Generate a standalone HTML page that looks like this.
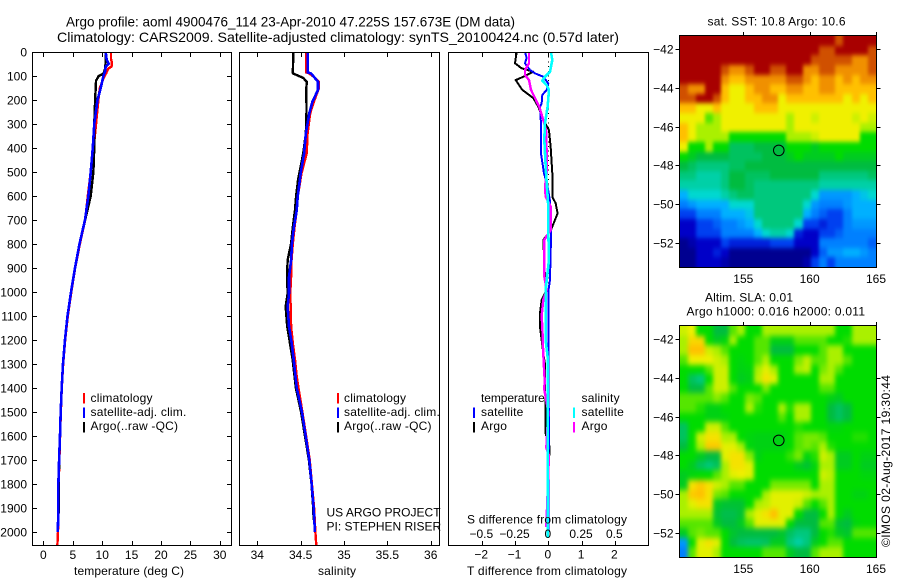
<!DOCTYPE html>
<html>
<head>
<meta charset="utf-8">
<title>Argo profile</title>
<style>
html,body{margin:0;padding:0;background:#fff;}
svg{display:block;}
text{font-family:"Liberation Sans",sans-serif;font-size:12px;fill:#000;}
.title{font-size:14px;}
.legend text{letter-spacing:.2px;}
</style>
</head>
<body>
<svg id="chart" xmlns="http://www.w3.org/2000/svg" width="900" height="580" viewBox="0 0 900 580">
<defs>
<filter id="sstSmooth" filterUnits="userSpaceOnUse" x="660" y="20" width="240" height="270" color-interpolation-filters="sRGB">
<feGaussianBlur stdDeviation="1.5 2.5"/>
<feComponentTransfer><feFuncA type="linear" slope="100" intercept="0"/></feComponentTransfer>
</filter>
<filter id="slaSmooth" filterUnits="userSpaceOnUse" x="660" y="310" width="240" height="270" color-interpolation-filters="sRGB">
<feGaussianBlur stdDeviation="2.2 3"/>
<feComponentTransfer><feFuncA type="linear" slope="100" intercept="0"/></feComponentTransfer>
</filter>
<clipPath id="sstClip"><rect x="680" y="36" width="196" height="231"/></clipPath>
<clipPath id="slaClip"><rect x="680" y="326" width="196" height="231"/></clipPath>
</defs>
<rect x="0" y="0" width="900" height="580" fill="#fff"/>
<text class="title" x="66" y="26.5" textLength="449" lengthAdjust="spacingAndGlyphs">Argo profile: aoml 4900476_114 23-Apr-2010 47.225S 157.673E (DM data)</text>
<text class="title" x="57" y="42" textLength="562" lengthAdjust="spacingAndGlyphs">Climatology: CARS2009. Satellite-adjusted climatology: synTS_20100424.nc (0.57d later)</text>

<g id="maps"></g>
<g id="profiles"></g>
<g id="axes"></g>

<text x="129" y="575" text-anchor="middle" textLength="110">temperature (deg C)</text>
<text x="337" y="575" text-anchor="middle" textLength="38">salinity</text>
<text x="547" y="575" text-anchor="middle" textLength="160">T difference from climatology</text>
<text x="547" y="523.5" text-anchor="middle" textLength="160">S difference from climatology</text>

<g class="legend">
<rect x="83" y="393" width="2" height="10.5" fill="#f00"/>
<text x="90.5" y="402">climatology</text>
<rect x="83" y="407.5" width="2" height="10.5" fill="#00f"/>
<text x="90.5" y="416">satellite-adj. clim.</text>
<rect x="83" y="422" width="2" height="10.5" fill="#000"/>
<text x="90.5" y="430">Argo(..raw -QC)</text>
</g>
<g class="legend">
<rect x="337" y="393" width="2" height="10.5" fill="#f00"/>
<text x="344" y="402">climatology</text>
<rect x="337" y="407.5" width="2" height="10.5" fill="#00f"/>
<text x="344" y="416">satellite-adj. clim.</text>
<rect x="337" y="422" width="2" height="10.5" fill="#000"/>
<text x="344" y="430">Argo(..raw -QC)</text>
</g>
<text x="326.5" y="516.5">US ARGO PROJECT</text>
<text x="326.5" y="530.5">PI: STEPHEN RISER</text>

<g class="legend">
<text x="481" y="402" textLength="64">temperature</text>
<rect x="473" y="407.5" width="2" height="10.5" fill="#00f"/>
<text x="481" y="416">satellite</text>
<rect x="473" y="422" width="2" height="10.5" fill="#000"/>
<text x="481" y="430">Argo</text>
<text x="581.5" y="402">salinity</text>
<rect x="573" y="407.5" width="2" height="10.5" fill="#0ff"/>
<text x="581.5" y="416">satellite</text>
<rect x="573" y="422" width="2" height="10.5" fill="#f0f"/>
<text x="581.5" y="430">Argo</text>
</g>

<text x="707.5" y="25.5" textLength="138">sat. SST: 10.8 Argo: 10.6</text>
<text x="705" y="301.5" textLength="88">Altim. SLA: 0.01</text>
<text x="686.5" y="315.5" textLength="178.5">Argo h1000: 0.016 h2000: 0.011</text>
<text transform="translate(890 547) rotate(-90)" textLength="172">©IMOS 02-Aug-2017 19:30:44</text>
</svg>

<script>
// ---------- chart data ----------
var tempTicks = [0, 5, 10, 15, 20, 25, 30];
var salTicks = [34, 34.5, 35, 35.5, 36];
var tDiffTicks = [-2, -1, 0, 1, 2];
var sDiffTicks = [-0.5, -0.25, 0, 0.25, 0.5];
var sDiffTickLabels = ['\u22120.5', '\u22120.25', '0', '0.25', '0.5'];
var tDiffTickLabels = ['\u22122', '\u22121', '0', '1', '2'];
var depthTicks = [0, 100, 200, 300, 400, 500, 600, 700, 800, 900, 1000, 1100, 1200, 1300, 1400, 1500, 1600, 1700, 1800, 1900, 2000];
var lonTicks = [155, 160, 165];
var latTicks = [-42, -44, -46, -48, -50, -52];
var profileLon = [157.673];
var profileLat = [-47.225];

var tempClimDepth = [0, 30, 40, 60, 70, 90, 110, 150, 200, 300, 400, 500, 600, 700, 800, 900, 1000, 1100, 1200, 1300, 1400, 1500, 1600, 1700, 1800, 1900, 2000, 2055];
var tempClimValue = [11.5, 11.5, 11.6, 11.6, 11.0, 10.65, 10.2, 9.6, 9.35, 8.95, 8.55, 8.05, 7.55, 7.1, 6.2, 5.4, 4.75, 4.15, 3.7, 3.36, 3.13, 2.97, 2.84, 2.72, 2.6, 2.6, 2.48, 2.38];
var tempSatDepth = [0, 30, 50, 60, 80, 100, 150, 200, 300, 400, 500, 600, 700, 800, 900, 1000, 1100, 1200, 1300, 1400, 1500, 1600, 1700, 1800, 1900, 2000];
var tempSatValue = [10.6, 10.75, 11.1, 10.6, 10.5, 10.2, 9.75, 9.2, 8.65, 8.4, 8.05, 7.65, 7.07, 6.14, 5.37, 4.7, 4.1, 3.67, 3.33, 3.11, 2.94, 2.82, 2.67, 2.55, 2.55, 2.45];
var tempArgoDepth = [0, 50, 70, 90, 100, 120, 200, 300, 400, 500, 600, 700, 800, 900, 1000, 1100, 1200, 1300, 1400, 1500, 1600, 1700, 1800, 1900, 1950];
var tempArgoValue = [10.56, 10.56, 10.5, 10.2, 9.4, 8.95, 8.8, 8.65, 8.65, 8.5, 8.05, 7.1, 6.14, 5.37, 4.7, 4.1, 3.67, 3.33, 3.11, 2.94, 2.82, 2.7, 2.6, 2.6, 2.55];

var salClimDepth = [0, 85, 89, 103, 124, 151, 200, 255, 339, 422, 505, 603, 658, 728, 797, 867, 936, 1006, 1061, 1144, 1214, 1283, 1353, 1400, 1500, 1600, 1700, 1800, 1900, 2000, 2055];
var salClimValue = [34.562, 34.562, 34.597, 34.65, 34.71, 34.71, 34.66, 34.61, 34.58, 34.57, 34.51, 34.466, 34.455, 34.43, 34.41, 34.395, 34.39, 34.38, 34.385, 34.39, 34.41, 34.435, 34.455, 34.475, 34.52, 34.563, 34.605, 34.63, 34.655, 34.67, 34.68];
var salSatDepth = [0, 85, 89, 124, 158, 208, 255, 339, 422, 505, 603, 658, 728, 797, 867, 936, 1006, 1061, 1144, 1214, 1283, 1353, 1400, 1500, 1600, 1700, 1800, 1900, 2000];
var salSatValue = [34.58, 34.58, 34.62, 34.7, 34.7, 34.635, 34.6, 34.56, 34.54, 34.5, 34.466, 34.455, 34.423, 34.4, 34.39, 34.366, 34.366, 34.35, 34.366, 34.397, 34.42, 34.44, 34.455, 34.515, 34.558, 34.6, 34.627, 34.65, 34.665];
var salArgoDepth = [0, 89, 108, 124, 158, 242, 339, 422, 478, 533, 603, 658, 728, 797, 867, 936, 1006, 1061, 1144, 1214, 1283, 1353, 1400, 1500, 1600, 1700, 1800, 1900, 1950];
var salArgoValue = [34.415, 34.41, 34.53, 34.57, 34.565, 34.568, 34.56, 34.53, 34.5, 34.47, 34.447, 34.435, 34.41, 34.39, 34.35, 34.343, 34.35, 34.327, 34.345, 34.377, 34.408, 34.43, 34.445, 34.505, 34.55, 34.595, 34.625, 34.645, 34.65];

var tDiffArgoDepth = [0, 47, 68, 82, 100, 117, 158, 192, 228, 283, 325, 394, 505, 603, 630, 672, 700, 742, 783, 936, 992, 1033, 1089, 1144, 1200, 1256, 1300, 1367, 1500, 1590, 1640, 1680, 1700, 1900];
var tDiffArgoValue = [-0.95, -1.0, -0.8, -0.45, -0.7, -0.98, -0.78, -0.45, -0.3, -0.15, 0.02, 0.07, 0.12, 0.12, 0.22, 0.28, 0.2, 0.08, -0.15, -0.1, -0.05, -0.2, -0.25, -0.25, -0.2, -0.15, -0.1, -0.1, -0.08, -0.08, 0.03, 0.03, 0, 0];
var tDiffSatDepth = [0, 25, 47, 75, 89, 103, 131, 158, 179, 214, 228, 297, 422, 505, 561, 620, 742, 783, 950, 1000, 1450, 1500, 2000];
var tDiffSatValue = [-0.7, -0.65, -0.7, -0.55, -0.4, -0.15, 0, -0.05, -0.18, -0.2, -0.25, -0.22, -0.22, -0.13, -0.02, 0.05, 0.08, 0.08, 0.05, 0, 0, 0.02, 0];
var sDiffArgoDepth = [0, 47, 75, 96, 117, 158, 186, 228, 283, 325, 422, 505, 561, 603, 644, 742, 783, 936, 992, 1033, 1100, 1144, 1256, 1345, 1375, 1400, 1500, 1650, 1680, 1980];
var sDiffArgoValue = [-0.145, -0.145, -0.175, -0.175, -0.145, -0.13, -0.105, -0.068, -0.038, -0.017, -0.012, -0.012, -0.025, -0.02, 0.018, 0.018, -0.03, -0.03, -0.012, -0.038, -0.05, -0.045, -0.038, -0.03, -0.025, -0.032, 0, -0.015, 0.005, -0.015];
var sDiffSatDepth = [0, 33, 82, 103, 119, 138, 158, 228, 297, 366, 505, 644, 742, 867, 992, 1200, 1270, 2000, 2025];
var sDiffSatValue = [0.02, 0.03, 0.013, -0.025, -0.045, -0.012, 0.005, -0.005, -0.025, -0.03, -0.017, 0, 0, 0.005, -0.02, -0.02, -0.005, -0.005, -0.005];

var sstRows = [
[14,14,14,14,14,14,14,14,14,14,14,14,14,14,14,14,14,14,14,13,14,14,14,14],
[14,14,14,14,14,14,14,14,14,14,14,14,14,14,14,14,14,13,13,14,14,14,14,13],
[14,14,14,14,14,14,14,14,14,14,14,14,14,14,14,14,13,13,13,13,13,12,12,13],
[14,14,14,14,14,13,12,12,13,14,14,13,13,14,14,12,12,13,13,12,12,12,12,13],
[14,14,14,14,14,12,11,11,12,12,12,12,12,13,13,12,11,12,12,11,12,11,12,12],
[13,12,12,14,14,11,10,10,11,12,12,11,11,12,12,11,11,12,12,11,11,11,11,11],
[13,13,14,14,13,11,10,10,11,11,12,12,10,11,11,11,11,11,11,11,10,11,10,11],
[11,11,10,10,11,10,10,10,10,11,11,11,10,10,10,10,10,10,10,10,10,10,10,10],
[10,10,10,8.5,9,10,10,10,10,10,10,10,10,9,10,10,9.5,10,10,10,10,9.5,10,9.5],
[11,10,9,9,9,10,10,10,10,10,10,10,10,9,10,10,10,10,10,10,10,10,9,9],
[11,10,9,9,9,9,8,8,8,8,8,8,8,9,9,9,9.5,10,10,10,10,10,8,8],
[10,8,8,9,8,8,6.5,6.5,6.5,7,7,7,7,8,8,8,7.5,8,8,8,8,8,8,8],
[8,7.5,7,7,7,7,6.5,6.5,6.5,6.5,7,7,7,7.5,8,7.5,7.5,7.5,7.5,8,7.5,7.5,7.5,7.5],
[7,6.5,6,6,6,6,6.5,6.5,7,7,7,7,7,7,7,7,7,7,7,7,7,7,7,7],
[6,6,5.5,5.5,5.5,6,7,7,6.5,6.5,6.5,7,7,7,7,7,7,6,6,6,6,6,6,6.5],
[5.5,5.5,5.5,5.5,5.5,6,7,7,6.5,6,6,6,6,6,6,6,6,5.5,5.5,5.5,5.5,5.5,5.5,5.5],
[4,5,5,5,5,5.5,6,6.5,6.5,6,6,6,6,6,6,6,5,3.5,3.5,3.5,3.5,4,4.5,5],
[3,3.5,4,4,4,4,5,5,5,6,6,6,6,6,6,5,3.5,3,3,3,3.5,4,4,4],
[2,2,3,3,3,4,4,4,4.5,6,6,6,6,6,6,4,3,2.5,2,2,3,4,4,4],
[1,1,2,2,2.5,3,3,3.5,4,5,6,6,6,6,5,2,2,1.5,2,2,3,3.5,3.5,3.5],
[1,1,2,2,2,3,3,3,3,4,5,5.5,5.5,5,1.5,1,1,2,2,2.5,3,3,3,3],
[0,0.5,1,1,1,2,1.5,1.5,1.5,1.5,1.5,2,2,2,1,1,1,3,3,3,3,3,3,2.5],
[0,0,1,1,1.5,1,0,0,0,0,0,0,0,0,0,0,1,2.5,3.5,3.5,4,4,3.5,3],
[0,0,1,1,1,0.5,0,0,0,0,0,0,0,0,0,0.5,2,3,2,3,3,3,3,3]
];
var slaRows = [
[9.5,10,8,8,7,7,8.5,9,8,8,9,9,9,9,9,9,9,9,9,8,8,9,9,9],
[9,10.5,10.5,8,7.5,7.8,9,8,8,8.5,8.5,7.7,7.7,7.7,8.5,8.5,8.5,8.5,8,8,8.2,9,9,9],
[9,11,11,9.5,9,8.5,8,8,8,8.5,8.5,7,7,7,8,8,8,8.5,9,9,8,8,8,8],
[8.5,10,10,10,9.5,9,8,7.8,8,8.5,9,8,8,8,8.7,9.3,8.5,8.5,9,9,8.5,8,8,8],
[8,8,8,8.5,9.5,9.5,8,7.7,7.8,9,9.8,9,8,8,9,9.3,8,8.7,9,8.5,8,8,8,8],
[8,6.5,6,8,9.5,9.5,8,7.5,7.7,9.3,10.3,9.8,8,8,8,8,8,9,9,8,8,8,8,8],
[8,7,7,8.5,9.5,9.5,8.5,8,8,8,8.7,8,8,8,8,8,8,8.5,8.5,8,8,8,8,8],
[8.5,8.5,8.5,8.5,8.8,8.5,8,8,8.7,8.5,8,8,8,8,8,8,8,8,7.7,7.5,8,8,8,8],
[8.5,8.5,8.2,7.7,7.7,8,8,8,9,8.2,8,8,9,8.2,9,9,8,8,7,6.5,7,8,8,8],
[8,8,8,7.7,7.7,7.8,8,8,8,8,8,8,8.5,8,9,9,8,8,7,6.5,7,8,8,8],
[6.5,8,8,9.5,9.5,8.5,8,8,8,8,8,8,8,8,8.2,8,8,8,7.8,7.8,8,8,8,8],
[6.5,8,9.5,10.3,10.3,9,9,8,7.8,7.7,7.7,7.7,7.7,8,8.5,8.7,8.7,8.5,8,8,8,8.2,8.2,8],
[7,8,9,10.8,10.8,9.8,9.8,9,7.8,7.7,7.7,7.7,7.7,8,8.5,8.7,8.5,9,8.2,8,8,8,8,8],
[8,8,7.5,7,7,9.8,10.3,10.3,8.8,7.7,8,8,8,8.3,8.7,7.8,8.2,9.5,9,7.5,7.5,8,7.7,7.7],
[8,7.5,6.5,6,6.5,9,10.3,10.3,9.8,8,8,8,8,8,7.5,7.2,7.8,9,9,7.5,7.5,8,7.5,7.5],
[7.5,7.8,8,8,8.5,9,9.8,10,9.8,8,8,8,8,8,8,8,8,9.5,9.2,8,8,8,7.8,7.8],
[7.5,10.3,10.8,10.3,9.5,9,8.5,8.5,8,8,8,8.7,8.7,8.7,8.7,8.7,8,9,9,8,8,8,8,8],
[9,10.8,11,10.3,8.7,8.5,8,8,8,8,9,9.8,9.8,9.8,9.8,9.5,9,9,9,8,8,7.7,7.7,8],
[9,9.8,10.3,10.3,7.5,7.2,7.2,7.2,8,9,9.3,9.8,9.8,9.8,9.5,8.5,8,8.5,9,8,8,8,8,8],
[9,9,9,9,7.2,6.8,6.8,7.2,9,9.8,10.3,11,9.8,9.8,8,7,7,8,9,8,7.5,8,8,8],
[8.5,8.5,8.5,8.5,7.5,7,7,7.5,8.5,9.8,9.8,9.8,9.8,8,7,7,7,8.5,8.5,7.2,7,7.8,8,8],
[7.5,8.5,8.7,8.5,8.5,8,7.3,7,7,7,7,7,7.3,6.5,6,6,7,8,8.2,7.5,7.3,8.5,8.5,8.5],
[3.5,8,9.8,10.3,9.8,8,7,6.5,6.3,6.3,6.5,7.5,7.5,6,5.5,6,7.5,8,8.5,8.5,8,8,8,8],
[3,8.5,9.8,9.8,9,8,8,8,8,8,8.5,8.5,8.5,7.5,7,7,8.5,9,9,9,8,8,8,8]
];
var colorStops = [[0,0,144],[0,0,200],[0,64,240],[0,128,255],[0,176,255],[0,216,208],[0,200,125],[0,188,64],[0,220,0],[170,240,0],[240,240,0],[255,192,0],[240,144,0],[208,80,0],[168,0,0]];

// ---------- axis functions ----------
function tempX(v) { return 43.4 + 5.88 * v; }
function salX(v) { return 257.3 + 86.7 * (v - 34); }
function tDiffX(v) { return 548.3 + 33.3 * v; }
function sDiffX(v) { return 548.3 + 133 * v; }
function depthY(d) { return 52 + 0.24 * d; }
function lonX(v) { return 743.3 + 13.27 * (v - 155); }
function latOffset(v) { return 19.4 * (-42 - v); }

var SVGNS = 'http://www.w3.org/2000/svg';
var mapsLayer = document.getElementById('maps');
var profilesLayer = document.getElementById('profiles');
var axesLayer = document.getElementById('axes');

function makeEl(parent, tag, attrs, name) {
  var el = document.createElementNS(SVGNS, tag);
  for (var k in attrs) { el.setAttribute(k, attrs[k]); }
  
  
  parent.appendChild(el);
  return el;
}
function makeLine(x1, y1, x2, y2, name) {
  return makeEl(axesLayer, 'line', {x1: x1, y1: y1, x2: x2, y2: y2, stroke: '#000', 'stroke-width': 1, 'shape-rendering': 'crispEdges'}, name);
}
function makeLabel(x, y, str, anchor, name) {
  var t = makeEl(axesLayer, 'text', {x: x, y: y, 'text-anchor': anchor}, name);
  t.textContent = str;
  return t;
}
function drawSeries(depths, values, xFn, color, width, name) {
  var pts = [];
  for (var i = 0; i < depths.length; i++) {
    pts.push(xFn(values[i]).toFixed(2) + ',' + depthY(depths[i]).toFixed(2));
  }
  makeEl(profilesLayer, 'polyline', {points: pts.join(' '), fill: 'none', stroke: color, 'stroke-width': width, 'stroke-linejoin': 'round', 'shape-rendering': 'crispEdges'}, name);
}
function frame(x0, x1, y0, y1, name) {
  makeEl(axesLayer, 'rect', {x: x0, y: y0, width: x1 - x0, height: y1 - y0, fill: 'none', stroke: '#000', 'stroke-width': 1, 'shape-rendering': 'crispEdges'}, name);
}
function cellColor(v) {
  var i = Math.max(0, Math.min(colorStops.length - 2, Math.floor(v)));
  var f = Math.max(0, Math.min(1, v - i));
  var a = colorStops[i], b = colorStops[i + 1];
  return 'rgb(' + Math.round(a[0] + (b[0] - a[0]) * f) + ',' + Math.round(a[1] + (b[1] - a[1]) * f) + ',' + Math.round(a[2] + (b[2] - a[2]) * f) + ')';
}
function drawMap(rows, top, bottom, lat42Y, filterId, clipId, name) {
  var left = 680, right = 876;
  var cw = (right - left) / rows[0].length;
  var ch = (bottom - top) / rows.length;
  var clipGroup = makeEl(mapsLayer, 'g', {'clip-path': 'url(#' + clipId + ')'}, name + '-image');
  var cellGroup = makeEl(clipGroup, 'g', {filter: 'url(#' + filterId + ')'}, name + '-cells');
  for (var r = 0; r < rows.length; r++) {
    for (var c = 0; c < rows[r].length; c++) {
      var x0 = Math.round(left + c * cw), x1 = Math.round(left + (c + 1) * cw);
      var y0 = Math.round(top + r * ch), y1 = Math.round(top + (r + 1) * ch);
      makeEl(cellGroup, 'rect', {x: x0, y: y0, width: x1 - x0, height: y1 - y0, fill: cellColor(rows[r][c]), 'shape-rendering': 'crispEdges'}, name + '-cell');
    }
  }
  frame(679.5, 876.5, top - 0.5, bottom + 0.5, name + '-frame');
  lonTicks.forEach(function (v) {
    var x = Math.round(lonX(v)) + 0.5;
    makeLine(x, top - 4, x, top, name + '-x-tick-top');
    makeLabel(lonX(v), bottom + 16, String(v), 'middle', name + '-x-tick-label');
  });
  latTicks.forEach(function (v) {
    var y = Math.round(lat42Y + latOffset(v)) + 0.5;
    makeLine(675.5, y, 679.5, y, name + '-y-tick-left');
    makeLine(876.5, y, 880.5, y, name + '-y-tick-right');
    makeLabel(673.5, y + 4, '\u2212' + Math.abs(v), 'end', name + '-y-tick-label');
  });
  makeEl(axesLayer, 'circle', {cx: lonX(profileLon[0]), cy: lat42Y + latOffset(profileLat[0]), r: 5.3, fill: 'none', stroke: '#000', 'stroke-width': 1}, name + '-profile-location-marker');
}

// ---------- profile series ----------
drawSeries(tempClimDepth, tempClimValue, tempX, '#f00', 2.4, 'temperature-climatology-line');
drawSeries(tempArgoDepth, tempArgoValue, tempX, '#000', 2.4, 'temperature-argo-line');
drawSeries(tempSatDepth, tempSatValue, tempX, '#00f', 2.6, 'temperature-satellite-line');

drawSeries(salClimDepth, salClimValue, salX, '#f00', 2.4, 'salinity-climatology-line');
drawSeries(salArgoDepth, salArgoValue, salX, '#000', 2.4, 'salinity-argo-line');
drawSeries(salSatDepth, salSatValue, salX, '#00f', 2.6, 'salinity-satellite-line');

makeEl(profilesLayer, 'line', {x1: 548.5, y1: 52, x2: 548.5, y2: 545, stroke: '#000', 'stroke-width': 1, 'stroke-dasharray': '1 3.7', 'shape-rendering': 'crispEdges'}, 'zero-difference-line');
drawSeries(tDiffArgoDepth, tDiffArgoValue, tDiffX, '#000', 2, 't-difference-argo-line');
drawSeries(tDiffSatDepth, tDiffSatValue, tDiffX, '#00f', 2, 't-difference-satellite-line');
drawSeries(sDiffArgoDepth, sDiffArgoValue, sDiffX, '#f0f', 2.4, 's-difference-argo-line');
drawSeries(sDiffSatDepth, sDiffSatValue, sDiffX, '#0ff', 2.6, 's-difference-satellite-line');

// ---------- axes ----------
frame(32.5, 231.5, 52.5, 545.5, 'temperature-panel-frame');
frame(239.5, 439.5, 52.5, 545.5, 'salinity-panel-frame');
frame(448.5, 648.5, 52.5, 545.5, 'difference-panel-frame');

tempTicks.forEach(function (v) {
  var x = Math.round(tempX(v)) + 0.5;
  makeLine(x, 52.5, x, 57, 'temperature-top-tick');
  makeLine(x, 541, x, 545.5, 'temperature-bottom-tick');
  makeLabel(tempX(v), 559, String(v), 'middle', 'temperature-tick-label');
});
salTicks.forEach(function (v) {
  var x = Math.round(salX(v)) + 0.5;
  makeLine(x, 52.5, x, 57, 'salinity-top-tick');
  makeLine(x, 541, x, 545.5, 'salinity-bottom-tick');
  makeLabel(salX(v), 559, String(v), 'middle', 'salinity-tick-label');
});
tDiffTicks.forEach(function (v, i) {
  var x = Math.round(tDiffX(v)) + 0.5;
  makeLine(x, 52.5, x, 57, 'difference-top-tick');
  makeLine(x, 541, x, 545.5, 'difference-bottom-tick');
  makeLabel(tDiffX(v) - 0.5, 558.5, tDiffTickLabels[i], 'middle', 't-difference-tick-label');
});
sDiffTicks.forEach(function (v, i) {
  makeLabel(sDiffX(v) - 0.5, 538, sDiffTickLabels[i], 'middle', 's-difference-tick-label');
});
depthTicks.forEach(function (d) {
  var y = Math.round(depthY(d)) + 0.5;
  makeLine(32.5, y, 37, y, 'depth-left-tick');
  makeLine(227, y, 231.5, y, 'depth-right-tick');
  makeLabel(27, y + 4, String(d), 'end', 'depth-tick-label');
});

// ---------- maps ----------
drawMap(sstRows, 36, 267, 49, 'sstSmooth', 'sstClip', 'sst-map');
drawMap(slaRows, 326, 557, 339, 'slaSmooth', 'slaClip', 'sla-map');
</script>
</body>
</html>
